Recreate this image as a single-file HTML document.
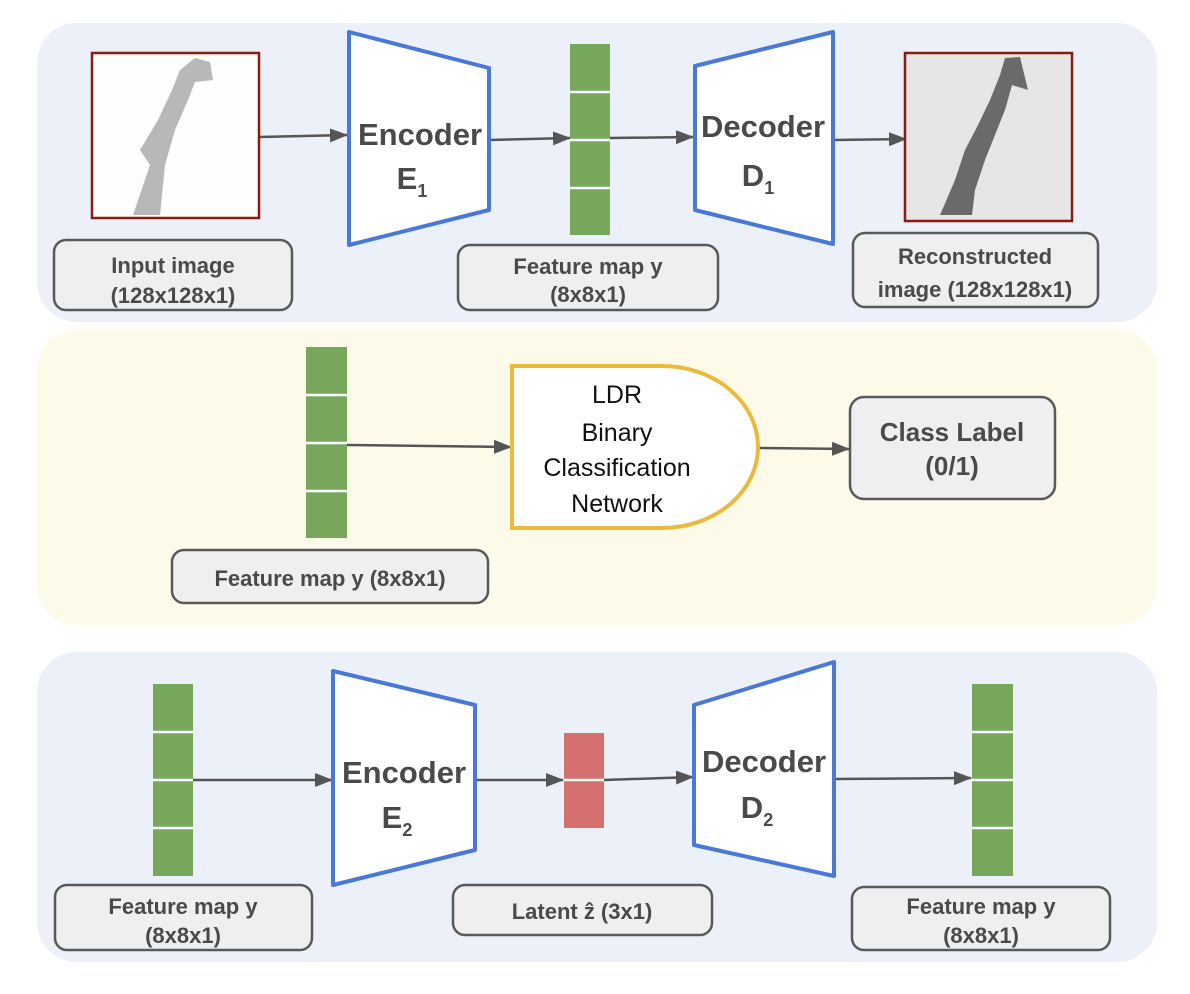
<!DOCTYPE html>
<html><head><meta charset="utf-8"><style>body{margin:0;background:#fff}svg{display:block}</style></head><body>
<svg width="1190" height="994" viewBox="0 0 1190 994" xmlns="http://www.w3.org/2000/svg" font-family="Liberation Sans, sans-serif">
<defs>
<marker id="b" markerWidth="18" markerHeight="14" refX="17" refY="7" orient="auto" markerUnits="userSpaceOnUse"><path d="M0,0 L18,7 L0,14 z" fill="#555"/></marker></defs>
<rect x="37" y="23" width="1120" height="299" rx="40" fill="#ecf0f9"/>
<rect x="37" y="330" width="1120" height="295" rx="40" fill="#fefaea"/>
<rect x="37" y="652" width="1120" height="310" rx="40" fill="#ecf0f9"/>
<g stroke="#555" stroke-width="2.5" fill="none">
<line x1="259" y1="137" x2="347" y2="135" marker-end="url(#b)"/>
<line x1="489" y1="140" x2="570" y2="138" marker-end="url(#b)"/>
<line x1="610" y1="138" x2="693" y2="137" marker-end="url(#b)"/>
<line x1="833" y1="140" x2="906" y2="139" marker-end="url(#b)"/>
<line x1="347" y1="445" x2="511" y2="447" marker-end="url(#b)"/>
<line x1="758" y1="448" x2="849" y2="449" marker-end="url(#b)"/>
<line x1="193" y1="780" x2="332" y2="780" marker-end="url(#b)"/>
<line x1="475" y1="780" x2="563" y2="780" marker-end="url(#b)"/>
<line x1="604" y1="780" x2="693" y2="777" marker-end="url(#b)"/>
<line x1="834" y1="779" x2="971" y2="778" marker-end="url(#b)"/>
</g>
<rect x="92" y="53" width="167" height="165" fill="#fdfdfd" stroke="#8b1a10" stroke-width="2.5"/>
<path d="M133,215 L150,165 L140,150 L158,120 L172,90 L180,70 L195,58 L210,62 L213,80 L195,82 L188,100 L175,130 L165,165 L160,215 Z" fill="#b8b8b8"/>
<rect x="905" y="53" width="167" height="168" fill="#e6e6e6" stroke="#8b1a10" stroke-width="2.5"/>
<path d="M940,215 L955,180 L965,150 L978,125 L990,100 L1000,75 L1005,58 L1020,57 L1028,90 L1012,85 L1005,110 L995,135 L985,160 L975,190 L972,215 Z" fill="#6a6a6a"/>
<g fill="#fff" stroke="#4a78d6" stroke-width="4" stroke-linejoin="round">
<polygon points="349,32 489,68 489,210 349,245"/>
<polygon points="695,66 833,32 833,244 695,210"/>
<polygon points="333,671 475,705 475,850 333,885"/>
<polygon points="694,705 834,662 834,876 694,845"/>
</g>
<path d="M512,366 H662 A96 81 0 0 1 662,528 H512 Z" fill="#fff" stroke="#e8bb3c" stroke-width="4"/>
<g fill="#76a75a">
<rect x="570" y="44" width="40" height="191"/>
<rect x="306" y="347" width="41" height="191"/>
<rect x="153" y="684" width="40" height="192"/>
<rect x="972" y="684" width="41" height="192"/>
</g>
<rect x="564" y="733" width="40" height="95" fill="#d4706d"/>
<g stroke="#fff" stroke-width="2.5">
<line x1="570" x2="610" y1="92" y2="92"/><line x1="570" x2="610" y1="140" y2="140"/><line x1="570" x2="610" y1="188" y2="188"/>
<line x1="306" x2="347" y1="395" y2="395"/><line x1="306" x2="347" y1="443" y2="443"/><line x1="306" x2="347" y1="491" y2="491"/>
<line x1="153" x2="193" y1="732" y2="732"/><line x1="153" x2="193" y1="780" y2="780"/><line x1="153" x2="193" y1="828" y2="828"/>
<line x1="972" x2="1013" y1="732" y2="732"/><line x1="972" x2="1013" y1="780" y2="780"/><line x1="972" x2="1013" y1="828" y2="828"/>
<line x1="564" x2="604" y1="780" y2="780"/>
</g>
<g fill="#efefef" stroke="#595959" stroke-width="2.5">
<rect x="54" y="240" width="238" height="70" rx="12"/>
<rect x="458" y="245" width="260" height="65" rx="12"/>
<rect x="853" y="233" width="245" height="74" rx="12"/>
<rect x="850" y="397" width="205" height="102" rx="14"/>
<rect x="172" y="550" width="316" height="53" rx="12"/>
<rect x="55" y="885" width="257" height="65" rx="12"/>
<rect x="453" y="885" width="259" height="50" rx="12"/>
<rect x="852" y="887" width="258" height="63" rx="12"/>
</g>
<g fill="#4a4a4a" font-weight="bold" text-anchor="middle">
<g font-size="31"><text x="420" y="145">Encoder</text><text x="763" y="137">Decoder</text><text x="404" y="783">Encoder</text><text x="764" y="772">Decoder</text></g>
<g font-size="31"><text x="412" y="189">E<tspan font-size="18" dy="8">1</tspan></text>
<text x="758" y="186">D<tspan font-size="18" dy="8">1</tspan></text>
<text x="397" y="828">E<tspan font-size="18" dy="8">2</tspan></text>
<text x="757" y="818">D<tspan font-size="18" dy="8">2</tspan></text></g>
<g font-size="22"><text x="173" y="273">Input image</text><text x="173" y="303">(128x128x1)</text>
<text x="588" y="274">Feature map y</text><text x="588" y="302">(8x8x1)</text>
<text x="975" y="264">Reconstructed</text><text x="975" y="297">image (128x128x1)</text>
<text x="330" y="586">Feature map y (8x8x1)</text>
<text x="183" y="914">Feature map y</text><text x="183" y="943">(8x8x1)</text>
<text x="582" y="919">Latent ẑ (3x1)</text>
<text x="981" y="914">Feature map y</text><text x="981" y="943">(8x8x1)</text></g>
<g font-size="26"><text x="952" y="441">Class Label</text><text x="952" y="475">(0/1)</text></g>
</g>
<g fill="#111" font-size="25" text-anchor="middle"><text x="617" y="403">LDR</text><text x="617" y="441">Binary</text><text x="617" y="476">Classification</text><text x="617" y="512">Network</text></g>
</svg>
</body></html>
